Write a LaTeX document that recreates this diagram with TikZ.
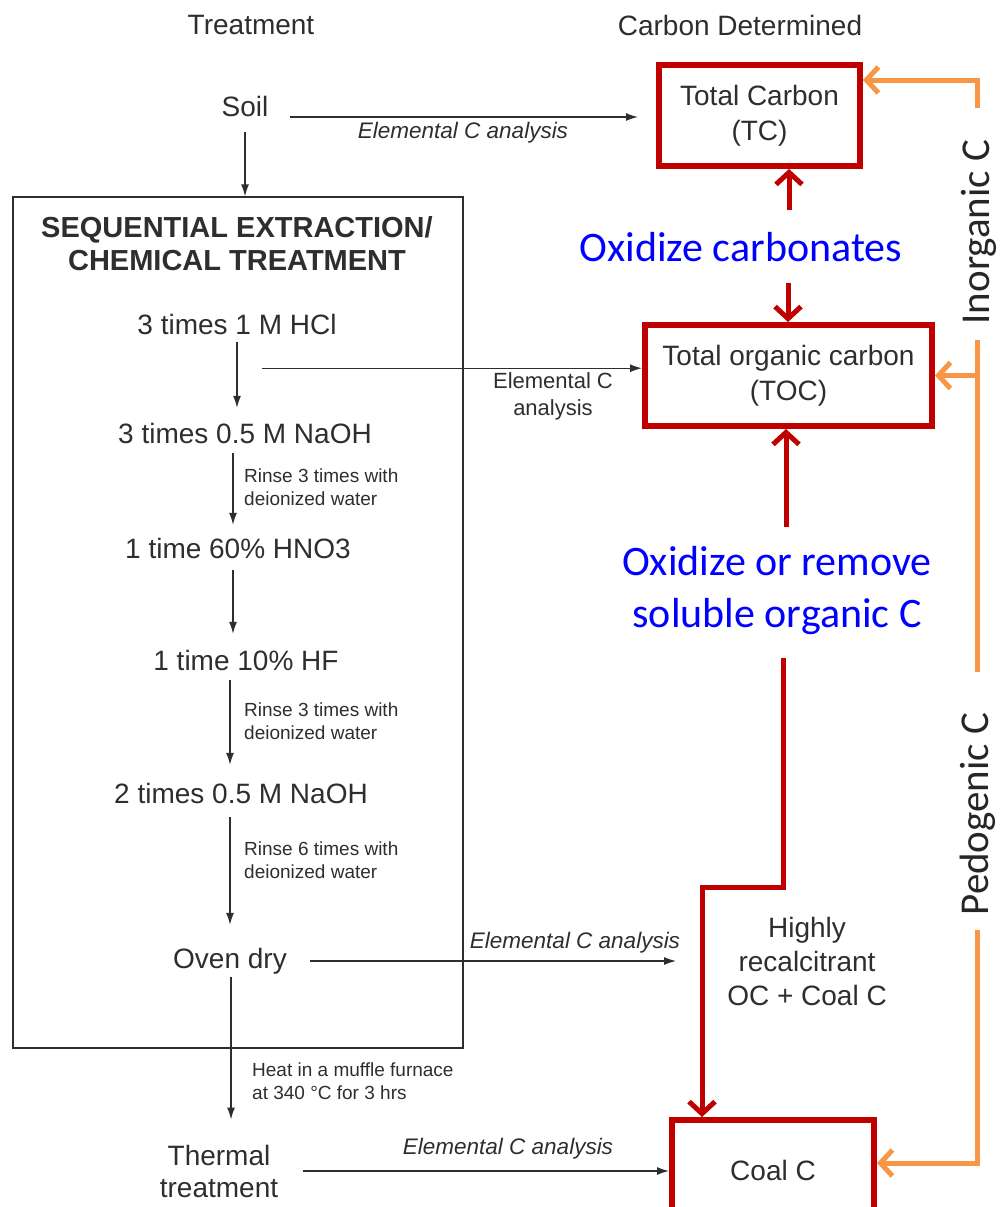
\documentclass[tikz,border=0pt]{standalone}
\usepackage{fontspec}
\setmainfont{Liberation Sans}
\newfontfamily\calib{Carlito}
\usetikzlibrary{arrows.meta}
\definecolor{txt}{HTML}{2E2E2E}
\definecolor{boxred}{HTML}{C00000}
\definecolor{orng}{HTML}{F79646}
\definecolor{bluetxt}{HTML}{0000FF}
\begin{document}
\begin{tikzpicture}[x=1pt,y=-1pt,
  lbl/.style={font=\fontsize{28}{33}\selectfont, text=txt, inner sep=2pt},
  stepnode/.style={lbl, text height=20pt, text depth=6pt},
  ital/.style={font=\fontsize{22.5}{27}\selectfont\itshape, text=txt, inner sep=0pt},
  small/.style={font=\fontsize{19}{23}\selectfont, text=txt, inner sep=0pt, align=left, anchor=west},
  redbox/.style={draw=boxred, line width=6pt, text=txt, inner sep=2pt, align=center, font=\fontsize{28}{35}\selectfont},
  bluetext/.style={font=\calib\fontsize{42}{52}\selectfont, text=bluetxt, align=center, inner sep=0pt},
  sidetext/.style={font=\calib\fontsize{41}{50}\selectfont, text=black!85, rotate=90, anchor=base, inner sep=0pt},
  barrow/.style={draw=txt, line width=1.3pt, -{Latex[length=12pt,width=8pt]}},
  redarrow/.style={draw=boxred, line width=5pt, -{Straight Barb[length=12pt,width=26pt]}},
  orline/.style={draw=orng, line width=5pt},
  orarrow/.style={orline, -{Straight Barb[length=12pt,width=26pt]}},
]
\useasboundingbox (0,0) rectangle (999,1207);
\clip (0,0) rectangle (999,1207);

% headings
\node[lbl] (treat) at (251,25) {Treatment};
\node[lbl] (cdet) at (740,25) {Carbon Determined};

% left column
\node[stepnode] (soil) at (245,109) {Soil};
\node[draw=txt, line width=1.3pt, minimum width=450pt, minimum height=851pt, inner sep=0pt] (seqbox) at (238,622.5) {};
\node[font=\fontsize{29}{33}\selectfont\bfseries, text=txt, align=center, inner sep=0pt] (title) at (237,243.5) {SEQUENTIAL EXTRACTION/\\CHEMICAL TREATMENT};
\node[stepnode] (hcl) at (237,327) {3 times 1 M HCl};
\node[stepnode] (naoh1) at (245,436) {3 times 0.5 M NaOH};
\node[stepnode] (hno3) at (238,551) {1 time 60\% HNO3};
\node[stepnode] (hf) at (246,663) {1 time 10\% HF};
\node[stepnode] (naoh2) at (241,796) {2 times 0.5 M NaOH};
\node[stepnode] (oven) at (230,961) {Oven dry};
\node[lbl, align=center, font=\fontsize{28}{32}\selectfont] (thermal) at (219,1171) {Thermal\\treatment};

\node[small] (r1) at (244,487) {Rinse 3 times with\\deionized water};
\node[small] (r2) at (244,721.5) {Rinse 3 times with\\deionized water};
\node[small] (r3) at (244,860) {Rinse 6 times with\\deionized water};
\node[small] (heat) at (252,1081.5) {Heat in a muffle furnace\\at 340 °C for 3 hrs};

% analysis labels
\node[ital] (e1) at (463,133) {Elemental C analysis};
\node[font=\fontsize{22}{27}\selectfont, text=txt, align=center, inner sep=0pt] (e2) at (553,396.5) {Elemental C\\analysis};
\node[ital] (e3) at (575,943) {Elemental C analysis};
\node[ital] (e4) at (508,1149) {Elemental C analysis};

% right column
\node[redbox, minimum width=201pt, minimum height=101pt] (tc) at (759.5,115.5) {Total Carbon\\(TC)};
\node[redbox, minimum width=287pt, minimum height=101pt] (toc) at (788.5,375.5) {Total organic carbon\\(TOC)};
\node[redbox, minimum width=202pt, minimum height=100pt] (coal) at (773,1170) {Coal C};
\node[lbl, align=center, font=\fontsize{28}{34}\selectfont] (highly) at (807,961) {Highly\\recalcitrant\\OC + Coal C};
\node[bluetext] (oxc) at (741,247) {Oxidize carbonates};
\node[bluetext] (oxs) at (777,591) {Oxidize or remove\\soluble organic C};
\node[sidetext] (inorg) at (989,232) {Inorganic C};
\node[sidetext] (pedo) at (988,814) {Pedogenic C};

% black connectors
\draw[barrow, shorten <=8pt] (soil.south) -- (soil.south |- seqbox.north);
\coordinate (s1) at ([yshift=-8pt]soil.east);
\draw[barrow, shorten <=19pt, shorten >=18pt] (s1) -- (s1 -| tc.west);

\draw[barrow, shorten >=13pt] (hcl.south) -- (hcl.south |- naoh1.north);
\coordinate (a2) at ([xshift=-12pt]naoh1.south);
\draw[barrow, shorten <=2pt, shorten >=11pt] (a2) -- (a2 |- hno3.north);
\coordinate (a3) at ([xshift=-5pt]hno3.south);
\draw[barrow, shorten <=4pt, shorten >=14pt] (a3) -- (a3 |- hf.north);
\coordinate (a4) at ([xshift=-16pt]hf.south);
\draw[barrow, shorten <=2pt, shorten >=16pt] (a4) -- (a4 |- naoh2.north);
\coordinate (a5) at ([xshift=-11pt]naoh2.south);
\draw[barrow, shorten <=6pt, shorten >=21pt] (a5) -- (a5 |- oven.north);
\coordinate (a6) at ([xshift=1pt]oven.south);
\draw[barrow, shorten <=1pt, shorten >=23pt] (a6) -- (a6 |- thermal.north);

\coordinate (h1) at ([xshift=25pt,yshift=-26pt]hcl.south);
\draw[barrow] (h1) -- (h1 -| toc.west);
\draw[barrow, shorten <=21pt, shorten >=49pt] (oven.east) -- (oven.east -| highly.west);
\draw[barrow, shorten <=23pt] (thermal.east) -- (thermal.east -| coal.west);

% red connectors
\coordinate (ra) at (789,210);
\draw[redarrow] (ra) -- (ra |- tc.south);
\coordinate (rb) at (788,283);
\draw[redarrow] (rb) -- (rb |- toc.north);
\coordinate (rc) at (786,527);
\draw[redarrow] (rc) -- (rc |- toc.south);
\coordinate (rd) at (783,658);
\coordinate (re) at (702,887);
\draw[redarrow] (rd) |- (re) -- (re |- coal.north);

% orange connectors
\coordinate (oa) at (977,108);
\draw[orarrow] (oa) |- ([yshift=35.5pt]tc.east);
\coordinate (ob) at (977,340);
\coordinate (oc) at (977,672);
\draw[orline] (ob) -- (oc);
\draw[orarrow] (ob |- toc.east) -- (toc.east);
\coordinate (od) at (977,930);
\draw[orarrow] (od) |- ([yshift=7pt]coal.east);
\end{tikzpicture}
\end{document}
